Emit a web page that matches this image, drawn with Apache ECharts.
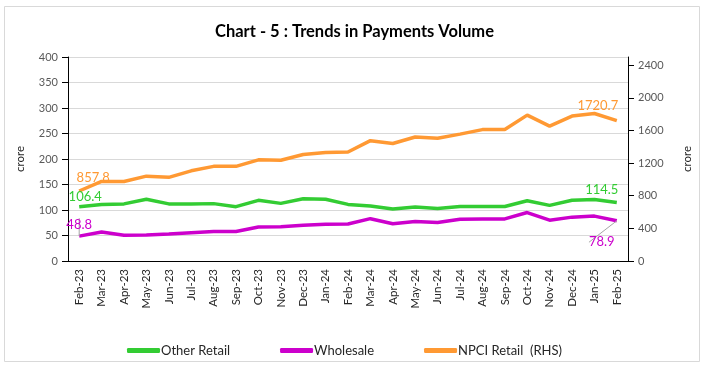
<!DOCTYPE html>
<html>
<head>
<meta charset="utf-8">
<script src="https://cdn.jsdelivr.net/npm/echarts@6/dist/echarts.min.js"></script>
<style>
html,body{margin:0;padding:0;background:#fff;}
#c{width:709px;height:372px;}
</style>
</head>
<body>
<div id="c"></div>
<script>
const categories = ['Feb-23','Mar-23','Apr-23','May-23','Jun-23','Jul-23','Aug-23','Sep-23','Oct-23','Nov-23','Dec-23','Jan-24','Feb-24','Mar-24','Apr-24','May-24','Jun-24','Jul-24','Aug-24','Sep-24','Oct-24','Nov-24','Dec-24','Jan-25','Feb-25'];
const otherRetail = [106.4, 111, 112, 121, 112, 112, 112.5, 106.5, 119, 113, 122, 121, 111, 108, 102, 106, 103, 107, 107, 107, 118, 109, 119, 120.5, 114.5];
const wholesale = [48.8, 57, 50.5, 51, 53, 55.5, 58, 58, 66.5, 67, 70, 72, 72.5, 83, 73, 77.5, 75.5, 82, 82.5, 82.5, 95, 80, 86, 88, 78.9];
const npciRetail = [857.8, 975, 975, 1040, 1025, 1105, 1160, 1160, 1240, 1235, 1305, 1330, 1335, 1475, 1440, 1520, 1505, 1555, 1610, 1612, 1788, 1653, 1776, 1808, 1720.7];
const seriesNames = ['Other Retail', 'Wholesale', 'NPCI Retail  (RHS)'];
const leftTicks = {min: 0, max: 400, interval: 50};
const rightTicks = {min: 0, max: 2500, interval: 400};

const FONT = 'Lato';
const colors = ['#33CC33', '#CC00CC', '#FF9933'];

function withLabels(values, color, firstOffset, lastOffset, lastPos) {
  const n = values.length;
  return values.map((v, i) => {
    if (i === 0) {
      return {value: v, label: {show: true, position: 'top', offset: firstOffset, color: color, fontSize: 13, fontFamily: FONT, formatter: String(v)}};
    }
    if (i === n - 1) {
      return {value: v, label: {show: true, position: lastPos || 'top', offset: lastOffset, color: color, fontSize: 13, fontFamily: FONT, formatter: String(v)}};
    }
    return v;
  });
}

const chart = echarts.init(document.getElementById('c'));
chart.setOption({
  animation: false,
  backgroundColor: '#fff',
  textStyle: {fontFamily: FONT},
  title: {
    text: 'Chart - 5 : Trends in Payments Volume',
    left: 'center',
    top: 18,
    textStyle: {fontFamily: FONT, fontSize: 16.5, fontWeight: 'bold', color: '#000'}
  },
  graphic: [{
    type: 'rect',
    shape: {x: 4.5, y: 6.5, width: 695, height: 355},
    style: {fill: 'none', stroke: '#d9d9d9', lineWidth: 1},
    silent: true,
    z: -1
  }],
  legend: {
    left: 122,
    top: 339,
    itemGap: 50,
    itemWidth: 33,
    itemHeight: 5,
    icon: 'roundRect',
    textStyle: {fontFamily: FONT, fontSize: 13, color: '#262626', padding: [0, 0, 0, -4]},
    data: seriesNames
  },
  grid: {left: 68, right: 81, top: 57, bottom: 111},
  xAxis: {
    type: 'category',
    data: categories,
    boundaryGap: true,
    axisLine: {lineStyle: {color: '#000', width: 1}},
    axisTick: {show: false},
    axisLabel: {rotate: 90, interval: 0, color: '#262626', fontSize: 11.5, fontFamily: FONT, margin: 8}
  },
  yAxis: [{
    type: 'value',
    min: leftTicks.min, max: leftTicks.max, interval: leftTicks.interval,
    name: 'crore',
    nameLocation: 'middle',
    nameGap: 42,
    nameRotate: 90,
    nameTextStyle: {fontFamily: FONT, fontSize: 11.5, color: '#262626'},
    axisLine: {show: true, lineStyle: {color: '#000'}},
    axisTick: {show: true, length: 6, lineStyle: {color: '#000'}},
    axisLabel: {color: '#595959', fontSize: 11, fontFamily: FONT, margin: 10},
    splitLine: {lineStyle: {color: '#d9d9d9', width: 1}}
  }, {
    type: 'value',
    min: rightTicks.min, max: rightTicks.max, interval: rightTicks.interval,
    position: 'right',
    name: 'crore',
    nameLocation: 'middle',
    nameGap: 53,
    nameRotate: 90,
    nameTextStyle: {fontFamily: FONT, fontSize: 11.5, color: '#262626'},
    axisLine: {show: true, lineStyle: {color: '#000'}},
    axisTick: {show: true, length: 6, lineStyle: {color: '#000'}},
    axisLabel: {color: '#595959', fontSize: 11, fontFamily: FONT, margin: 10, showMaxLabel: false, formatter: function (v) { return String(v); }},
    splitLine: {show: false}
  }],
  series: [{
    name: seriesNames[0],
    type: 'line',
    yAxisIndex: 0,
    data: withLabels(otherRetail, colors[0], [6, 2], [-15, -1]),
    symbol: 'circle',
    symbolSize: 0,
    showSymbol: true,
    lineStyle: {color: colors[0], width: 3.5},
    itemStyle: {color: colors[0]},
    z: 3
  }, {
    name: seriesNames[1],
    type: 'line',
    yAxisIndex: 0,
    data: withLabels(wholesale, colors[1], [2, 0], [0, 0], 'bottom'),
    symbol: 'circle',
    symbolSize: 0,
    showSymbol: true,
    lineStyle: {color: colors[1], width: 3.5},
    itemStyle: {color: colors[1]},
    labelLine: {show: true, lineStyle: {color: '#a6a6a6', width: 1}},
    labelLayout: function (p) {
      if (p.dataIndex === wholesale.length - 1) {
        return {dx: -15, dy: 10};
      }
      return {};
    },
    z: 3
  }, {
    name: seriesNames[2],
    type: 'line',
    yAxisIndex: 1,
    data: withLabels(npciRetail, colors[2], [14, -2], [-19, -3]),
    symbol: 'circle',
    symbolSize: 0,
    showSymbol: true,
    lineStyle: {color: colors[2], width: 3.5},
    itemStyle: {color: colors[2]},
    z: 3
  }]
});
</script>
</body>
</html>
